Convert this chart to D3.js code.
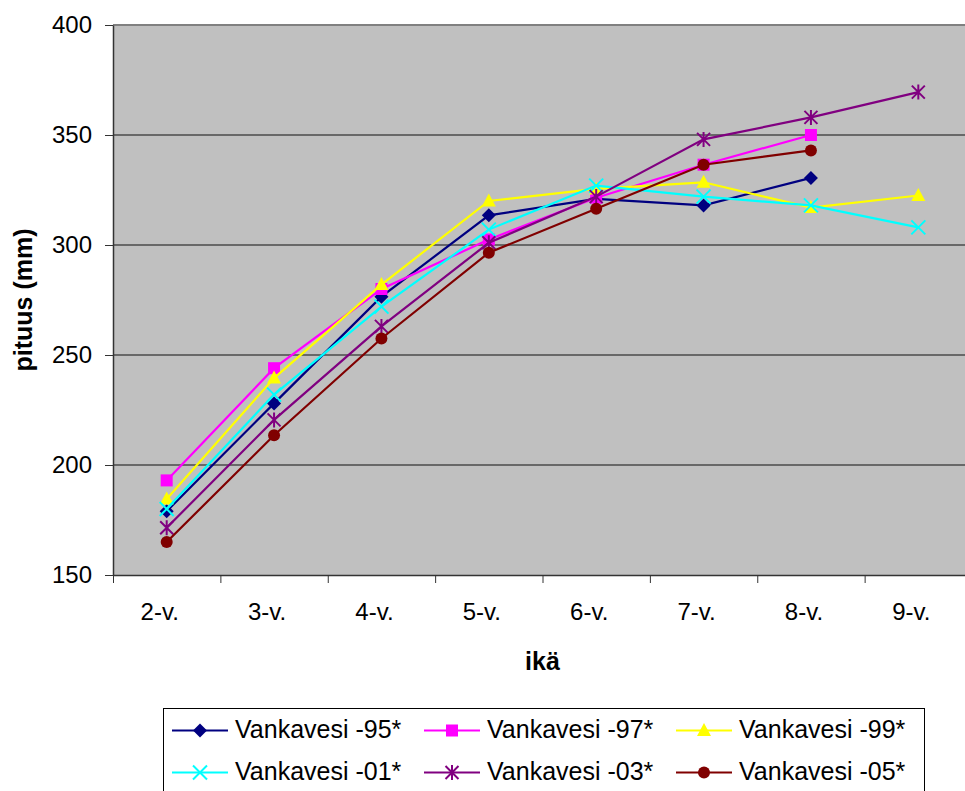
<!DOCTYPE html>
<html><head><meta charset="utf-8">
<script src="https://cdn.jsdelivr.net/npm/d3@7"></script>
<style>body{margin:0;background:#fff}svg{display:block}text{font-family:"Liberation Sans",Arial,sans-serif}</style>
</head><body>
<svg id="c" width="965" height="791"></svg>
<script>
const categories = ["2-v.","3-v.","4-v.","5-v.","6-v.","7-v.","8-v.","9-v."];
const yTicks = [150,200,250,300,350,400];
const seriesNames = ["Vankavesi -95*","Vankavesi -97*","Vankavesi -99*","Vankavesi -01*","Vankavesi -03*","Vankavesi -05*"];
const v95 = [179, 228, 276.5, 313.5, 321, 318, 330.5];
const v97 = [193, 244, 280, 302.5, 321.5, 336.5, 350];
const v99 = [184.5, 239.5, 282, 320, 325.5, 328.5, 317, 322.5];
const v01 = [180, 232, 272, 307, 327, 322, 318, 308];
const v03 = [171.5, 220.5, 263, 301, 322, 348, 358, 369.5];
const v05 = [165, 213.5, 257.5, 296.5, 316.5, 336.5, 343];
const colors = ["#000080","#FF00FF","#FFFF00","#00FFFF","#800080","#800000"];
const markers = ["diamond","square","triangle","x","star","circle"];
const seriesValues = [v95, v97, v99, v01, v03, v05];

const svg = d3.select("#c");
const L = 113, R = 972, T = 25, B = 575;
const x = d3.scaleBand().domain(categories).range([L, R]).padding(0);
const xb = d3.scaleLinear().domain([0, categories.length]).range([L, R]);
const y = d3.scaleLinear().domain([150, 400]).range([B, T]);

// plot background
svg.append("rect").attr("x", L).attr("y", T).attr("width", R - L).attr("height", B - T).attr("fill", "#C0C0C0");
// gridlines
svg.append("g").selectAll("line").data(yTicks.filter(d => d > 150 && d < 400)).join("line")
  .attr("x1", L).attr("x2", R).attr("y1", d => y(d)).attr("y2", d => y(d))
  .attr("stroke", "#111").attr("stroke-width", 1.2);
svg.append("line").attr("x1", L).attr("x2", R).attr("y1", y(400)).attr("y2", y(400))
  .attr("stroke", "#808080").attr("stroke-width", 2);

// y axis
const ya = svg.append("g").attr("transform", `translate(${L},0)`)
  .call(d3.axisLeft(y).tickValues(yTicks).tickSizeInner(8).tickSizeOuter(0).tickPadding(13));
ya.select(".domain").attr("stroke", "#333").attr("stroke-width", 1.5);
ya.selectAll(".tick line").attr("stroke", "#333");
ya.selectAll("text").attr("font-size", 24).attr("fill", "#000").attr("font-family", '"Liberation Sans",Arial,sans-serif');

// x axis ticks at boundaries
const xa = svg.append("g").attr("transform", `translate(0,${B})`)
  .call(d3.axisBottom(xb).tickValues(d3.range(0, categories.length)).tickFormat("").tickSizeInner(8).tickSizeOuter(0));
xa.select(".domain").attr("stroke", "#333").attr("stroke-width", 1.5);
xa.selectAll(".tick line").attr("stroke", "#333");
const xl = svg.append("g").attr("transform", `translate(0,${B})`)
  .call(d3.axisBottom(x).tickSize(0).tickPadding(28));
xl.select(".domain").remove();
xl.selectAll("text").attr("font-size", 24).attr("fill", "#000").attr("dx", -7)
  .attr("font-family", '"Liberation Sans",Arial,sans-serif');

// axis titles
svg.append("text").attr("x", (L + R) / 2).attr("y", 670).attr("text-anchor", "middle")
  .attr("font-size", 25).attr("font-weight", "bold").text("ikä");
svg.append("text").attr("transform", `translate(32,${(T + B) / 2}) rotate(-90)`).attr("text-anchor", "middle")
  .attr("font-size", 25).attr("font-weight", "bold").text("pituus (mm)");

function drawMarker(g, type, color, cx, cy) {
  if (type === "diamond") {
    const s = 7;
    g.append("path").attr("d", `M${cx},${cy - s}L${cx + s},${cy}L${cx},${cy + s}L${cx - s},${cy}Z`).attr("fill", color);
  } else if (type === "square") {
    g.append("rect").attr("x", cx - 6).attr("y", cy - 6).attr("width", 12).attr("height", 12).attr("fill", color);
  } else if (type === "triangle") {
    g.append("path").attr("d", `M${cx},${cy - 7.5}L${cx + 7},${cy + 5.5}L${cx - 7},${cy + 5.5}Z`).attr("fill", color);
  } else if (type === "circle") {
    g.append("circle").attr("cx", cx).attr("cy", cy).attr("r", 6).attr("fill", color);
  } else if (type === "x") {
    const s = 7;
    g.append("path").attr("d", `M${cx - s},${cy - s}L${cx + s},${cy + s}M${cx - s},${cy + s}L${cx + s},${cy - s}`)
      .attr("stroke", color).attr("stroke-width", 2).attr("fill", "none");
  } else if (type === "star") {
    const s = 6.5;
    g.append("path").attr("d", `M${cx - s},${cy - s}L${cx + s},${cy + s}M${cx - s},${cy + s}L${cx + s},${cy - s}M${cx},${cy - s - 1}L${cx},${cy + s + 1}`)
      .attr("stroke", color).attr("stroke-width", 2).attr("fill", "none");
  }
}

const line = d3.line().x((d, i) => x(categories[i]) + x.bandwidth() / 2).y(d => y(d));
seriesValues.forEach((vals, si) => {
  const g = svg.append("g");
  g.append("path").attr("d", line(vals)).attr("fill", "none").attr("stroke", colors[si]).attr("stroke-width", 2.2);
  vals.forEach((v, i) => drawMarker(g, markers[si], colors[si], x(categories[i]) + x.bandwidth() / 2, y(v)));
});

// legend
const lg = svg.append("g");
lg.append("rect").attr("x", 163.5).attr("y", 708.5).attr("width", 761).attr("height", 100)
  .attr("fill", "#fff").attr("stroke", "#000").attr("stroke-width", 1);
const colX = [172, 424, 676], rowY = [730.5, 772.5];
seriesNames.forEach((name, i) => {
  const cx = colX[i % 3], cy = rowY[Math.floor(i / 3)];
  lg.append("line").attr("x1", cx).attr("x2", cx + 56).attr("y1", cy).attr("y2", cy)
    .attr("stroke", colors[i]).attr("stroke-width", 2.2);
  drawMarker(lg, markers[i], colors[i], cx + 28, cy);
  lg.append("text").attr("x", cx + 63).attr("y", cy + 7).attr("font-size", 25).text(name);
});
</script>
</body></html>
